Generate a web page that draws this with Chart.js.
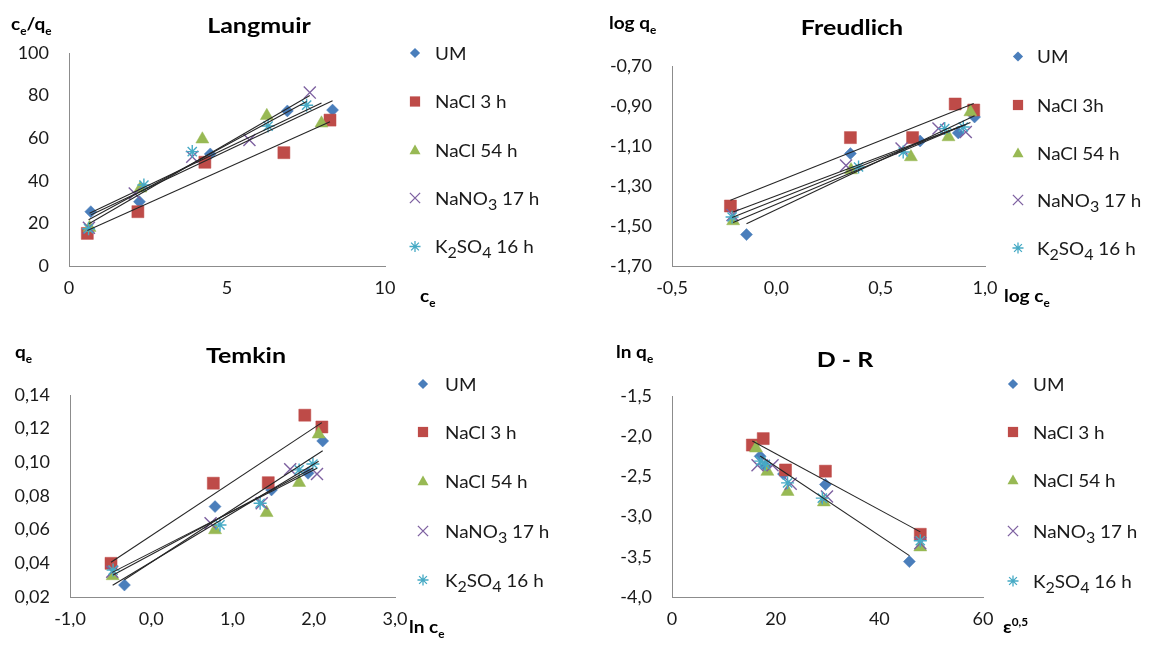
<!DOCTYPE html>
<html>
<head>
<meta charset="utf-8">
<script src="https://cdn.jsdelivr.net/npm/chart.js@4.4.0/dist/chart.umd.min.js"></script>
<style>
html, body { margin: 0; padding: 0; background: #fff; }
#wrap { position: relative; width: 1152px; height: 646px; overflow: hidden; }
#wrap canvas { position: absolute; left: 0; top: 0; }
</style>
</head>
<body>
<div id="wrap"></div>
<script>
// series names ({..} = subscript)
const seriesNames = ['UM', 'NaCl 3 h', 'NaCl 54 h', 'NaNO{3} 17 h', 'K{2}SO{4} 16 h'];
const freudNames = ['UM', 'NaCl 3h', 'NaCl 54 h', 'NaNO{3} 17 h', 'K{2}SO{4} 16 h'];

// Langmuir: ce vs ce/qe
const langmuirX = [
    [0.69, 2.23, 4.47, 6.91, 8.34],
    [0.58, 2.18, 4.30, 6.80, 8.26],
    [0.65, 2.26, 4.22, 6.26, 7.99],
    [0.63, 2.08, 3.90, 5.71, 7.62],
    [0.62, 2.37, 3.90, 6.30, 7.52]
];
const langmuirY = [
    [25.5, 30.2, 52.6, 72.8, 73.2],
    [15.3, 25.5, 48.7, 53.2, 68.5],
    [18.0, 36.5, 59.5, 70.5, 67.0],
    [18.0, 34.0, 51.3, 59.2, 81.4],
    [17.5, 38.0, 53.7, 65.7, 75.5]
];

// Freundlich: log ce vs log qe
const freudX = [
    [-0.143, 0.355, 0.689, 0.872, 0.950],
    [-0.220, 0.355, 0.653, 0.857, 0.946],
    [-0.207, 0.358, 0.645, 0.825, 0.930],
    [-0.210, 0.334, 0.600, 0.777, 0.908],
    [-0.212, 0.394, 0.608, 0.807, 0.896]
];
const freudY = [
    [-1.543, -1.138, -1.075, -1.035, -0.955],
    [-1.400, -1.058, -1.058, -0.890, -0.920],
    [-1.475, -1.220, -1.155, -1.055, -0.930],
    [-1.445, -1.197, -1.113, -1.013, -1.030],
    [-1.455, -1.205, -1.130, -1.013, -1.005]
];

// Temkin: ln ce vs qe
const temkinX = [
    [-0.330, 0.785, 1.48, 1.93, 2.11],
    [-0.495, 0.764, 1.44, 1.89, 2.10],
    [-0.475, 0.785, 1.42, 1.82, 2.06],
    [-0.480, 0.730, 1.36, 1.71, 2.04],
    [-0.470, 0.846, 1.34, 1.82, 1.99]
];
const temkinY = [
    [0.0271, 0.0737, 0.0836, 0.0935, 0.1127],
    [0.0400, 0.0876, 0.0879, 0.1280, 0.1210],
    [0.0325, 0.0598, 0.0700, 0.0879, 0.1167],
    [0.0350, 0.0638, 0.0757, 0.0959, 0.0931],
    [0.0360, 0.0628, 0.0757, 0.0955, 0.0990]
];

// D-R: eps^0.5 vs ln qe
const drX = [
    [45.8, 29.6, 21.5, 18.0, 17.0],
    [47.9, 29.6, 21.9, 17.6, 15.5],
    [47.9, 29.3, 22.3, 18.4, 16.2],
    [47.9, 29.9, 22.9, 19.4, 16.5],
    [47.9, 29.0, 22.3, 18.0, 17.1]
];
const drY = [
    [-3.56, -2.60, -2.47, -2.37, -2.25],
    [-3.22, -2.435, -2.42, -2.03, -2.11],
    [-3.38, -2.82, -2.69, -2.44, -2.15],
    [-3.33, -2.75, -2.59, -2.36, -2.36],
    [-3.30, -2.77, -2.58, -2.35, -2.31]
];

// tick labels
const langXTicks = [0, 5, 10];
const langYTicks = [0, 20, 40, 60, 80, 100];
const freudXTicks = [-0.5, 0.0, 0.5, 1.0];
const freudYTicks = [-1.70, -1.50, -1.30, -1.10, -0.90, -0.70];
const temkinXTicks = [-1.0, 0.0, 1.0, 2.0, 3.0];
const temkinYTicks = [0.02, 0.04, 0.06, 0.08, 0.10, 0.12, 0.14];
const drXTicks = [0, 20, 40, 60];
const drYTicks = [-4.0, -3.5, -3.0, -2.5, -2.0, -1.5];

// which series get a trendline
const allTrends = [true, true, true, true, true];
const drTrends = [true, true, false, false, false];

// marker look
const colors = ['#4A7EBB', '#BE4B48', '#98B954', '#7D60A0', '#46AAC5'];
const markers = ['rectRot', 'rect', 'triangle', 'crossRot', 'star'];
const markerSize = [6, 8.5, 7.5, 8.5, 6.5];
const strokeOnly = [false, false, false, true, true];

const FONT = 'Lato, "Open Sans", sans-serif';
const wrap = document.getElementById('wrap');

function fmt(v, dec) {
    return v.toFixed(dec).replace('.', ',');
}

function fitLine(xs, ys) {
    var n = xs.length;
    var mx = xs.reduce((a, b) => a + b, 0) / n;
    var my = ys.reduce((a, b) => a + b, 0) / n;
    var sxy = 0, sxx = 0;
    for (var i = 0; i < n; i++) {
        sxy += (xs[i] - mx) * (ys[i] - my);
        sxx += (xs[i] - mx) * (xs[i] - mx);
    }
    var b = sxy / sxx, a = my - b * mx;
    var lo = Math.min(...xs), hi = Math.max(...xs);
    return [{x: lo, y: a + b * lo}, {x: hi, y: a + b * hi}];
}

// "c{e}/q{e}" -> segments, ^{..} is superscript
function parseRich(str) {
    var out = [], buf = '', i = 0;
    while (i < str.length) {
        if (str[i] === '^' && str[i + 1] === '{') {
            if (buf) { out.push({t: buf, k: 'n'}); buf = ''; }
            var j = str.indexOf('}', i);
            out.push({t: str.slice(i + 2, j), k: 'sup'});
            i = j + 1;
        } else if (str[i] === '{') {
            if (buf) { out.push({t: buf, k: 'n'}); buf = ''; }
            var j2 = str.indexOf('}', i);
            out.push({t: str.slice(i + 1, j2), k: 'sub'});
            i = j2 + 1;
        } else {
            buf += str[i++];
        }
    }
    if (buf) out.push({t: buf, k: 'n'});
    return out;
}

function drawRich(ctx, str, x, y, o) {
    var size = o.size, weight = o.bold ? 'bold ' : '';
    var subScale = o.subScale || 0.62;
    var sx = o.sx || 1;
    var segs = parseRich(str);
    ctx.save();
    var total = 0;
    segs.forEach(s => {
        s.size = s.k === 'n' ? size : size * subScale;
        s.dy = s.k === 'sub' ? size * 0.28 : (s.k === 'sup' ? -size * 0.42 : 0);
        ctx.font = weight + s.size + 'px ' + FONT;
        s.w = ctx.measureText(s.t).width;
        total += s.w;
    });
    var start = o.align === 'center' ? -total / 2 : 0;
    ctx.translate(x, y);
    ctx.scale(sx, 1);
    ctx.fillStyle = o.color || '#000';
    ctx.textBaseline = 'alphabetic';
    ctx.textAlign = 'left';
    var cx = start;
    segs.forEach(s => {
        ctx.font = weight + s.size + 'px ' + FONT;
        ctx.fillText(s.t, cx, s.dy);
        cx += s.w;
    });
    ctx.restore();
}

function drawMarker(ctx, style, x, y, r, color) {
    ctx.save();
    ctx.fillStyle = color;
    ctx.strokeStyle = color;
    ctx.lineWidth = 1.3;
    ctx.beginPath();
    if (style === 'rectRot') {
        ctx.moveTo(x, y - r); ctx.lineTo(x + r, y); ctx.lineTo(x, y + r); ctx.lineTo(x - r, y);
        ctx.closePath(); ctx.fill();
    } else if (style === 'rect') {
        var s = r * Math.SQRT1_2;
        ctx.fillRect(x - s, y - s, 2 * s, 2 * s);
    } else if (style === 'triangle') {
        for (var k = 0; k < 3; k++) {
            var a = k * 2 * Math.PI / 3;
            var px = x + Math.sin(a) * r, py = y - Math.cos(a) * r + r * 0.15;
            if (k === 0) ctx.moveTo(px, py); else ctx.lineTo(px, py);
        }
        ctx.closePath(); ctx.fill();
    } else if (style === 'crossRot') {
        var d = r * Math.SQRT1_2;
        ctx.moveTo(x - d, y - d); ctx.lineTo(x + d, y + d);
        ctx.moveTo(x + d, y - d); ctx.lineTo(x - d, y + d);
        ctx.stroke();
    } else {
        var d2 = r * Math.SQRT1_2;
        ctx.moveTo(x - d2, y - d2); ctx.lineTo(x + d2, y + d2);
        ctx.moveTo(x + d2, y - d2); ctx.lineTo(x - d2, y + d2);
        ctx.moveTo(x, y - r); ctx.lineTo(x, y + r);
        ctx.moveTo(x - r, y); ctx.lineTo(x + r, y);
        ctx.stroke();
    }
    ctx.restore();
}

function drawPanelText(chart, p) {
    var ctx = chart.ctx;
    drawRich(ctx, p.title, p.titleX, p.titleY, {size: 20, bold: true, align: 'center', sx: 1.25});
    drawRich(ctx, p.yCap, p.yCapX, p.yCapY, {size: 17, bold: true, sx: 1.12});
    drawRich(ctx, p.xCap, p.xCapX, p.xCapY, {size: 17, bold: true, sx: 1.12});
    p.names.forEach((n, i) => {
        var y = p.legY[i];
        drawMarker(ctx, markers[i], p.legX, y, markerSize[i] * 0.85, colors[i]);
        drawRich(ctx, n, p.legTextX, y + 6.5, {size: 18, sx: 1.05, subScale: 0.85, color: '#1a1a1a'});
    });
}

function axis(min, max, ticks, dec, isY, fixedSize) {
    return {
        type: 'linear',
        min: min,
        max: max,
        afterBuildTicks: s => { s.ticks = ticks.map(v => ({value: v})); },
        afterFit: s => { if (isY) s.width = fixedSize; else s.height = fixedSize; },
        grid: {display: false, drawTicks: false},
        border: {display: true, color: '#8c8c8c', width: 1},
        ticks: {
            autoSkip: false,
            maxRotation: 0,
            padding: isY ? 20 : 11,
            color: '#1a1a1a',
            font: {family: FONT, size: 18},
            callback: v => fmt(v, dec)
        }
    };
}

function makePanel(p) {
    var canvas = document.createElement('canvas');
    canvas.width = 1152;
    canvas.height = 646;
    wrap.appendChild(canvas);

    var datasets = [];
    p.xs.forEach((xs, i) => {
        datasets.push({
            label: p.names[i],
            data: xs.map((x, k) => ({x: x, y: p.ys[i][k]})),
            pointStyle: markers[i],
            pointRadius: markerSize[i],
            pointHoverRadius: markerSize[i],
            backgroundColor: colors[i],
            borderColor: colors[i],
            borderWidth: strokeOnly[i] ? 1.4 : 0.5,
            showLine: false,
            order: 10 - i
        });
        if (p.trend[i]) {
            datasets.push({
                label: '',
                data: fitLine(xs, p.ys[i]),
                showLine: true,
                borderColor: '#262626',
                borderWidth: 1.1,
                pointRadius: 0,
                order: 0
            });
        }
    });

    new Chart(canvas, {
        type: 'scatter',
        data: {datasets: datasets},
        options: {
            responsive: false,
            animation: false,
            devicePixelRatio: 1,
            events: [],
            layout: {padding: {left: 0, top: p.area.t, right: 1152 - p.area.r, bottom: 646 - p.area.b - 30}},
            plugins: {legend: {display: false}, tooltip: {enabled: false}, title: {display: false}},
            scales: {
                x: axis(p.xMin, p.xMax, p.xTicks, p.xDec, false, 30),
                y: axis(p.yMin, p.yMax, p.yTicks, p.yDec, true, p.area.l)
            }
        },
        plugins: [{id: 'panelText', afterDraw: c => drawPanelText(c, p)}]
    });
}

makePanel({
    xs: langmuirX, ys: langmuirY, names: seriesNames, trend: allTrends,
    xMin: 0, xMax: 10, xTicks: langXTicks, xDec: 0,
    yMin: 0, yMax: 100, yTicks: langYTicks, yDec: 0,
    area: {l: 69, t: 53, r: 385, b: 266},
    title: 'Langmuir', titleX: 259, titleY: 33,
    yCap: 'c{e}/q{e}', yCapX: 11, yCapY: 30,
    xCap: 'c{e}', xCapX: 420, xCapY: 302,
    legX: 415, legTextX: 435, legY: [53, 101.5, 150, 198, 246.5]
});

makePanel({
    xs: freudX, ys: freudY, names: freudNames, trend: allTrends,
    xMin: -0.5, xMax: 1.0, xTicks: freudXTicks, xDec: 1,
    yMin: -1.7, yMax: -0.7, yTicks: freudYTicks, yDec: 2,
    area: {l: 672, t: 66, r: 985, b: 266},
    title: 'Freudlich', titleX: 852, titleY: 35,
    yCap: 'log q{e}', yCapX: 609, yCapY: 29,
    xCap: 'log c{e}', xCapX: 1004, xCapY: 302,
    legX: 1018, legTextX: 1037, legY: [56.5, 105, 153, 200, 248]
});

makePanel({
    xs: temkinX, ys: temkinY, names: seriesNames, trend: allTrends,
    xMin: -1, xMax: 3, xTicks: temkinXTicks, xDec: 1,
    yMin: 0.02, yMax: 0.14, yTicks: temkinYTicks, yDec: 2,
    area: {l: 70, t: 395, r: 395, b: 597},
    title: 'Temkin', titleX: 246, titleY: 363,
    yCap: 'q{e}', yCapX: 15, yCapY: 358,
    xCap: 'ln c{e}', xCapX: 409, xCapY: 633,
    legX: 423, legTextX: 445, legY: [384, 432, 481, 531, 580]
});

makePanel({
    xs: drX, ys: drY, names: seriesNames, trend: drTrends,
    xMin: 0, xMax: 60, xTicks: drXTicks, xDec: 0,
    yMin: -4, yMax: -1.5, yTicks: drYTicks, yDec: 1,
    area: {l: 672, t: 396, r: 983, b: 597},
    title: 'D - R', titleX: 845, titleY: 367,
    yCap: 'ln q{e}', yCapX: 616, yCapY: 358,
    xCap: '\u03b5^{0,5}', xCapX: 1003, xCapY: 633,
    legX: 1013, legTextX: 1033, legY: [384, 432, 480, 531, 581]
});
</script>
</body>
</html>
